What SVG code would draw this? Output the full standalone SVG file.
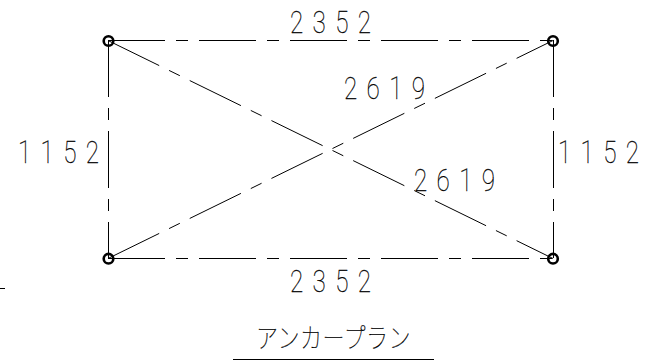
<svg xmlns="http://www.w3.org/2000/svg" width="653" height="360" viewBox="0 0 653 360">
<style>
.d{font-family:"Roboto","Liberation Sans",sans-serif;font-weight:100;font-size:31px;letter-spacing:12px;fill:#000;stroke:#000;stroke-width:.25}
.t{font-family:"Noto Sans CJK JP",sans-serif;font-weight:100;font-size:24px;letter-spacing:.4px;fill:#000;stroke:#000;stroke-width:.2}
.c{fill:none;stroke:#000;stroke-width:1;stroke-dasharray:57 11 12 11}
.s{fill:none;stroke:#000;stroke-width:1}
.n{fill:none;stroke:#000;stroke-width:2.6}
</style>
<rect width="653" height="360" fill="#fff"/>
<g id="connectors">
<line class="c" x1="108" y1="40.5" x2="553" y2="40.5"/>
<line class="c" x1="108" y1="258.5" x2="553" y2="258.5"/>
<line class="c" x1="108.5" y1="40" x2="108.5" y2="258"/>
<line class="c" x1="553.5" y1="40" x2="553.5" y2="258"/>
<line class="c" x1="108" y1="40.5" x2="553" y2="258.5"/>
<line class="c" x1="108" y1="258.5" x2="553" y2="40.5"/>
<line class="s" x1="233" y1="359.5" x2="434" y2="359.5"/>
<line class="s" x1="0" y1="288.5" x2="5" y2="288.5"/>
</g>
<g id="node-tl"><circle class="n" cx="108.5" cy="41" r="4.8"/></g>
<g id="node-tr"><circle class="n" cx="553" cy="41" r="4.8"/></g>
<g id="node-bl"><circle class="n" cx="108.5" cy="258.7" r="4.8"/></g>
<g id="node-br"><circle class="n" cx="553" cy="258.7" r="4.8"/></g>
<g id="labels">
<text class="d" transform="translate(290,33) scale(.78,1)">2352</text>
<text class="d" transform="translate(290,292) scale(.78,1)">2352</text>
<text class="d" transform="translate(18,162.5) scale(.78,1)">1152</text>
<text class="d" transform="translate(558,162.5) scale(.78,1)">1152</text>
<text class="d" transform="translate(344,99) scale(.78,1)">2619</text>
<text class="d" transform="translate(414,191) scale(.78,1)">2619</text>
<text class="t" transform="translate(256,348) scale(.92,1.15)">アンカープラン</text>
</g>
</svg>
